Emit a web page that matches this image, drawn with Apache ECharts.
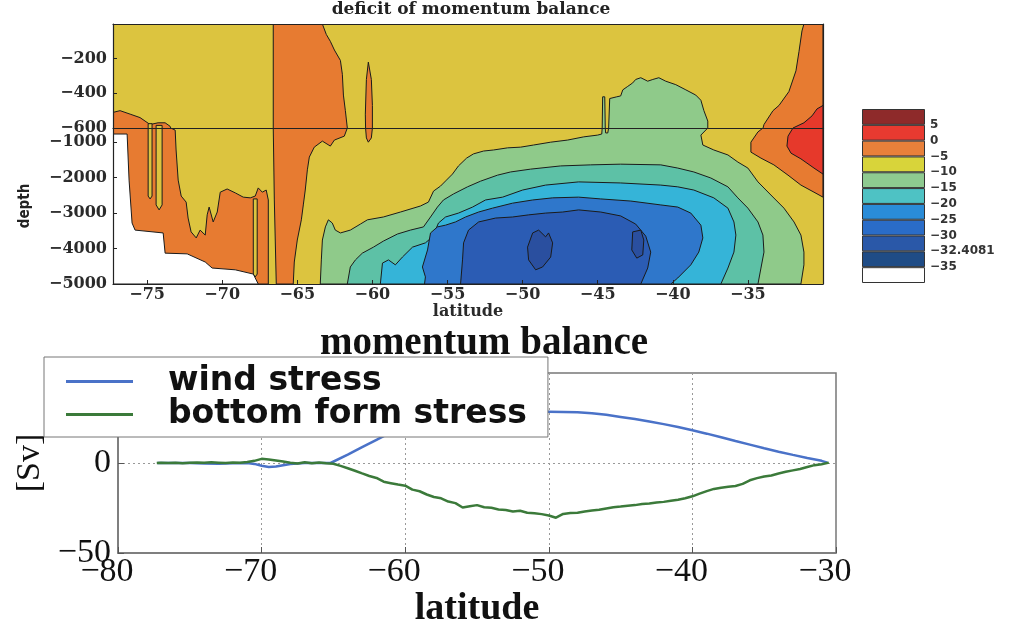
<!DOCTYPE html>
<html>
<head>
<meta charset="utf-8">
<title>momentum balance</title>
<script src="https://cdn.jsdelivr.net/npm/echarts@6/dist/echarts.min.js"></script>
<style>
html, body { margin: 0; padding: 0; background: #fff; }
#chart { width: 1018px; height: 619px; }
</style>
</head>
<body>
<div id="chart"></div>
<script>
// ---------- top panel: contour regions as [latitude, depth(m)] outlines ----------
const latMin = -77.27;
const latMax = -30;

const orangeWest = [[-77.27,-510],[-76.8,-500],[-76.13,-520],[-75.47,-540],[-74.8,-580],[-74.27,-570],[-73.8,-570],[-73.47,-590],[-73.13,-660],[-73.07,-1220],[-72.93,-2070],[-72.73,-2520],[-72.4,-2690],[-72.27,-3140],[-72.07,-3530],[-71.73,-3700],[-71.47,-3480],[-71.13,-3620],[-71.0,-3050],[-70.87,-2830],[-70.6,-3250],[-70.33,-2970],[-70.13,-2410],[-69.67,-2320],[-69.13,-2430],[-68.6,-2550],[-68.13,-2570],[-67.8,-2520],[-67.6,-2290],[-67.33,-2410],[-67.07,-2350],[-66.93,-2630],[-66.93,-5000],[-77.27,-5000]];
const stripA = [[-74.93,-575],[-74.67,-575],[-74.67,-2520],[-74.8,-2600],[-74.93,-2520]];
const stripB = [[-74.4,-585],[-74.0,-585],[-74.0,-2770],[-74.2,-2910],[-74.4,-2770]];
const stripC = [[-67.93,-2600],[-67.67,-2600],[-67.67,-4720],[-67.8,-4800],[-67.93,-4720]];
const orangeMid = [[-66.6,0],[-63.33,0],[-63.07,-60],[-62.8,-100],[-62.53,-150],[-62.13,-210],[-62.0,-290],[-61.93,-410],[-61.8,-500],[-61.67,-600],[-61.87,-830],[-62.53,-940],[-62.8,-1110],[-63.33,-970],[-63.87,-1140],[-64.2,-1420],[-64.33,-1780],[-64.47,-2350],[-64.6,-2770],[-64.73,-3190],[-65.0,-3760],[-65.2,-4380],[-65.27,-5000],[-66.4,-5000],[-66.53,-2630],[-66.6,-600]];
const orangeSpike = [[-60.27,-220],[-60.07,-320],[-60.0,-470],[-60.0,-600],[-60.07,-880],[-60.27,-1000],[-60.4,-880],[-60.47,-520],[-60.4,-320]];
const orangeEast = [[-31.27,0],[-30,0],[-30,-2550],[-30.6,-2410],[-31.47,-2210],[-32.33,-1930],[-33.27,-1640],[-34.13,-1450],[-34.8,-1280],[-34.8,-1000],[-34.33,-710],[-33.93,-580],[-33.33,-500],[-32.93,-470],[-32.27,-390],[-31.8,-270],[-31.6,-160],[-31.4,-40]];
const redEast = [[-30,-470],[-30.4,-490],[-30.73,-530],[-31.27,-570],[-32.0,-600],[-32.33,-830],[-32.4,-1110],[-32.13,-1310],[-31.47,-1470],[-30.6,-1730],[-30,-1900]];
const whiteSW = [[-77.27,-770],[-76.33,-770],[-76.2,-2070],[-76.0,-3280],[-75.8,-3480],[-73.93,-3560],[-73.8,-4130],[-72.33,-4150],[-71.13,-4380],[-70.67,-4550],[-69.13,-4600],[-67.93,-4720],[-67.6,-5000],[-77.27,-5000]];
const levelM10 = [[-63.47,-5000],[-63.4,-4320],[-63.33,-3760],[-63.13,-3390],[-62.93,-3190],[-62.67,-3280],[-62.47,-3480],[-62.13,-3560],[-61.47,-3480],[-60.8,-3310],[-60.33,-3190],[-59.27,-3110],[-58.13,-2970],[-56.8,-2800],[-56.27,-2690],[-55.93,-2380],[-55.47,-2240],[-55.07,-2070],[-54.67,-1900],[-54.27,-1670],[-53.73,-1450],[-53.27,-1330],[-52.6,-1250],[-51.93,-1220],[-51.0,-1160],[-50.13,-1140],[-49.27,-1080],[-48.13,-1000],[-47.0,-940],[-45.93,-850],[-45.0,-800],[-44.73,-770],[-44.67,-420],[-44.53,-420],[-44.47,-740],[-44.33,-740],[-44.2,-430],[-43.73,-420],[-43.47,-415],[-43.33,-380],[-43.0,-360],[-42.67,-340],[-42.47,-320],[-42.13,-310],[-41.67,-330],[-41.33,-320],[-40.93,-310],[-40.47,-330],[-39.8,-350],[-39.13,-380],[-38.47,-410],[-38.13,-440],[-37.93,-500],[-37.67,-560],[-37.67,-600],[-38.13,-800],[-38.0,-1080],[-37.27,-1220],[-36.33,-1360],[-35.67,-1560],[-35.0,-1730],[-34.33,-2120],[-33.47,-2490],[-32.6,-2860],[-31.93,-3250],[-31.47,-3620],[-31.27,-4100],[-31.27,-4460],[-31.47,-5000]];
const levelM15 = [[-61.67,-5000],[-61.47,-4520],[-61.13,-4320],[-60.67,-4130],[-59.93,-3960],[-59.27,-3790],[-58.33,-3590],[-57.47,-3480],[-56.6,-3390],[-56.13,-3110],[-55.67,-2830],[-55.27,-2630],[-54.6,-2460],[-53.67,-2260],[-52.8,-2100],[-51.67,-1930],[-50.8,-1840],[-49.47,-1760],[-47.47,-1670],[-45.47,-1640],[-43.47,-1620],[-40.8,-1640],[-39.67,-1730],[-38.6,-1840],[-37.47,-2010],[-36.33,-2260],[-35.67,-2570],[-35.0,-2860],[-34.33,-3250],[-34.0,-3620],[-33.93,-4100],[-34.13,-4550],[-34.33,-5000]];
const levelM20 = [[-59.47,-5000],[-59.33,-4410],[-58.93,-4320],[-58.47,-4460],[-58.0,-4240],[-57.33,-3960],[-56.47,-3840],[-56.0,-3670],[-55.6,-3280],[-55.13,-3110],[-54.27,-3000],[-53.33,-2830],[-52.47,-2630],[-51.33,-2550],[-50.0,-2350],[-48.47,-2210],[-46.27,-2120],[-43.47,-2150],[-40.8,-2210],[-39.67,-2260],[-38.6,-2350],[-37.27,-2570],[-36.33,-2860],[-35.93,-3250],[-35.8,-3620],[-35.93,-4100],[-36.33,-4550],[-36.8,-5000]];
const levelM25 = [[-56.53,-5000],[-56.47,-4800],[-56.67,-4520],[-56.33,-4040],[-56.13,-3560],[-55.67,-3390],[-55.13,-3340],[-54.47,-3250],[-53.8,-3110],[-52.93,-2970],[-52.0,-2860],[-50.67,-2720],[-49.33,-2630],[-48.0,-2570],[-46.27,-2550],[-44.8,-2600],[-42.8,-2660],[-40.8,-2770],[-39.67,-2830],[-38.8,-3000],[-38.13,-3340],[-38.0,-3700],[-38.27,-4100],[-38.8,-4460],[-39.67,-4830],[-40.13,-5000]];
const levelM30 = [[-54.13,-5000],[-54.0,-4320],[-53.93,-3840],[-53.6,-3480],[-52.93,-3250],[-51.8,-3140],[-50.67,-3110],[-49.6,-3050],[-48.47,-3000],[-47.33,-2970],[-46.27,-2910],[-44.8,-2970],[-43.47,-3080],[-42.47,-3310],[-41.8,-3650],[-41.47,-4100],[-41.67,-4550],[-42.13,-5000]];
const blobWest = [[-49.33,-3560],[-48.93,-3480],[-48.47,-3670],[-48.27,-3560],[-48.0,-3840],[-48.13,-4240],[-48.67,-4520],[-49.13,-4600],[-49.6,-4320],[-49.67,-3960]];
const blobEast = [[-42.67,-3530],[-42.13,-3480],[-41.93,-3760],[-42.0,-4180],[-42.4,-4270],[-42.73,-4040]];

// colour bar: boxes bottom -> top, and the labels at the box boundaries
const cbColors = ['#ffffff','#1f4c86','#2a58a8','#2a6cc8','#2a8cd8','#4ec2c4','#8eca90','#d8d43a','#e8803a','#e83a30','#8e2a2a'];
const cbTicks = ['', '-35', '-32.4081', '-30', '-25', '-20', '-15', '-10', '-5', '0', '5', ''];

// ---------- bottom panel: momentum balance [Sv] ----------
const windLat = [-77.25,-76,-75,-74,-73,-72,-71,-70.5,-70,-69.5,-69,-68.5,-68,-67,-66,-65.2,-64,-63,-62,-61,-60,-59,-58,-57,-56,-55,-54,-53,-52,-51,-50,-49,-48,-47,-46,-45,-44,-43,-42,-41,-40,-39,-38,-37,-36,-35,-34,-33,-32,-31,-30.6];
const windVal = [0,0,0,-0.3,-0.4,-0.2,0,-0.5,-1.5,-2.2,-2.0,-1.2,-0.5,0,0,0,4.6,8.8,12.9,17.0,21.0,23.5,25.5,26.8,27.5,28.0,28.3,28.5,28.6,28.6,28.5,28.4,28.2,27.7,26.8,25.6,24.4,23.1,21.6,20.0,18.2,16.3,14.3,12.2,10.2,8.2,6.3,4.5,2.8,1.2,0.2];

const formLat = [-77.3,-77,-76.5,-76,-75.5,-75,-74.5,-74,-73.5,-73,
  -72.5,-72,-71.5,-71,-70.5,-70,-69.5,-69,-68.5,-68,
  -67.5,-67,-66.5,-66,-65.5,-65,-64.5,-64,-63.5,-63,
  -62.5,-62,-61.5,-61,-60.5,-60,-59.5,-59,-58.5,-58,
  -57.5,-57,-56.5,-56,-55.5,-55,-54.5,-54,-53.5,-53,
  -52.5,-52,-51.5,-51,-50.5,-50,-49.5,-49,-48.5,-48,
  -47.5,-47,-46.5,-46,-45.5,-45,-44.5,-44,-43.5,-43,
  -42.5,-42,-41.5,-41,-40.5,-40,-39.5,-39,-38.5,-38,
  -37.5,-37,-36.5,-36,-35.5,-35,-34.5,-34,-33.5,-33,
  -32.5,-32,-31.5,-31,-30.5];
const formVal = [0,0.2,0,0.1,-0.1,0.2,0.3,0.1,0.4,0.2,
  0,0.3,0.1,0.6,1.2,2.3,2.0,1.4,0.8,0.2,
  -0.3,0.4,-0.2,0.3,-0.1,-0.4,-1.6,-2.9,-4.3,-5.8,
  -7.2,-8.3,-10.4,-11.2,-12.0,-12.6,-14.8,-15.7,-17.5,-18.9,
  -19.6,-21.4,-22.3,-24.7,-24.0,-23.4,-24.6,-24.9,-25.8,-26.1,
  -26.9,-26.5,-27.6,-27.9,-28.4,-29.2,-30.4,-28.3,-27.8,-27.6,
  -26.9,-26.4,-26.0,-25.3,-24.6,-24.2,-23.7,-23.4,-22.8,-22.5,
  -22.0,-21.6,-21.0,-20.4,-19.6,-18.5,-17.0,-15.6,-14.4,-13.7,
  -13.2,-12.8,-11.6,-9.6,-8.4,-7.5,-6.9,-5.8,-4.9,-4.1,
  -3.3,-2.2,-1.2,-0.7,0.2];

const C = {
  yellow: '#dcc43f', orange: '#e77b31', red: '#e6392b', green: '#8fca8a',
  teal: '#5dc1a6', cyan: '#35b4d8', blue: '#2f77cb', dark: '#2b5cb4', darkest: '#2a4f9f'
};

const minus = (v) => String(v).replace('-', '\u2212');
const smallSerif = { fontFamily: 'DejaVu Serif', fontWeight: 'bold', fontSize: 16, color: '#2a2a2a' };
const bigSerif = { fontFamily: 'Liberation Serif', fontSize: 34, color: '#111' };

// one filled contour region, drawn in either the upper (0..-600 m) or lower (-600..-5000 m) box
function region(points, fill, part) {
  return {
    type: 'custom',
    xAxisIndex: part === 0 ? 0 : 1,
    yAxisIndex: part === 0 ? 0 : 2,
    clip: true,
    silent: true,
    data: points,
    renderItem(params, api) {
      if (params.dataIndex !== 0) return null;
      return {
        type: 'polygon',
        shape: { points: points.map(p => api.coord(p)) },
        style: { fill: fill, stroke: '#1b1b1b', lineWidth: 1 }
      };
    }
  };
}

const layers = [
  [orangeWest, C.orange], [stripA, C.yellow], [stripB, C.yellow], [stripC, C.yellow],
  [orangeMid, C.orange], [orangeSpike, C.orange], [orangeEast, C.orange], [redEast, C.red],
  [whiteSW, '#ffffff'], [levelM10, C.green], [levelM15, C.teal], [levelM20, C.cyan],
  [levelM25, C.blue], [levelM30, C.dark], [blobWest, C.darkest], [blobEast, C.darkest]
];
const contourSeries = [];
layers.forEach(([pts, col]) => {
  contourSeries.push(region(pts, col, 0));
  contourSeries.push(region(pts, col, 1));
});

const frameLine = { show: true, onZero: false, lineStyle: { color: '#222', width: 1.2 } };
const hidden = { axisTick: { show: false }, axisLabel: { show: false }, splitLine: { show: false } };

const chart = echarts.init(document.getElementById('chart'));
chart.setOption({
  animation: false,
  backgroundColor: '#fff',
  title: [
    { text: 'deficit of momentum balance', left: 471, top: 1, textAlign: 'center', padding: 0,
      textStyle: { fontFamily: 'DejaVu Serif', fontWeight: 'bold', fontSize: 17, color: '#222' } },
    { text: 'momentum balance', left: 484, top: 324, textAlign: 'center', padding: 0,
      textStyle: { fontFamily: 'Liberation Serif', fontWeight: 'bold', fontSize: 39, color: '#111' } }
  ],
  grid: [
    { left: 113, right: 195, top: 24, height: 104, outerBoundsMode: 'none', containLabel: false,
      show: true, backgroundColor: C.yellow, borderWidth: 0 },
    { left: 113, right: 195, top: 128, height: 156, outerBoundsMode: 'none', containLabel: false,
      show: true, backgroundColor: C.yellow, borderWidth: 0 },
    { left: 862, width: 63, top: 109, height: 174, outerBoundsMode: 'none', containLabel: false },
    { left: 118, right: 182, top: 373, bottom: 66, outerBoundsMode: 'none', containLabel: false,
      show: true, borderColor: '#777', borderWidth: 1.5 }
  ],
  legend: {
    data: ['wind stress', 'bottom form stress'],
    left: 44, top: 357, orient: 'vertical',
    icon: 'rect', itemWidth: 67, itemHeight: 3, itemGap: 0,
    padding: [8, 21, 6, 22],
    backgroundColor: '#fff', borderColor: '#777', borderWidth: 1,
    selectedMode: false,
    textStyle: { fontFamily: 'DejaVu Sans', fontWeight: 'bold', fontSize: 33, lineHeight: 33, color: '#111', padding: [0, 0, 0, 30] }
  },
  xAxis: [
    Object.assign({ gridIndex: 0, type: 'value', position: 'top', min: latMin, max: latMax, axisLine: frameLine, z: 5 }, hidden),
    { gridIndex: 1, type: 'value', position: 'bottom', min: latMin, max: latMax,
      splitNumber: 9, minInterval: 5, maxInterval: 5,
      name: 'latitude', nameLocation: 'middle', nameGap: 15, nameTextStyle: smallSerif,
      axisLine: frameLine, axisTick: { show: true, inside: true, length: 4, lineStyle: { color: '#222' } },
      axisLabel: Object.assign({ margin: 3, showMinLabel: false, showMaxLabel: false, formatter: minus }, smallSerif),
      splitLine: { show: false }, z: 5 },
    Object.assign({ gridIndex: 1, type: 'value', position: 'top', min: latMin, max: latMax, axisLine: frameLine, z: 5 }, hidden),
    { gridIndex: 2, type: 'value', min: 0, max: 1, show: false },
    { gridIndex: 3, type: 'value', min: -80, max: -30, interval: 10,
      name: 'latitude', nameLocation: 'middle', nameGap: 30,
      nameTextStyle: { fontFamily: 'Liberation Serif', fontWeight: 'bold', fontSize: 38, color: '#111' },
      axisLine: { show: true, onZero: false, lineStyle: { color: '#777', width: 1.5 } },
      axisTick: { show: true, inside: true, length: 6, lineStyle: { color: '#555' } },
      axisLabel: Object.assign({ margin: 2, padding: [0, 22, 0, 0], formatter: minus }, bigSerif),
      splitLine: { show: true, lineStyle: { color: '#999', width: 1, type: [2, 3] } } }
  ],
  yAxis: [
    { gridIndex: 0, type: 'value', position: 'left', min: -600, max: 0, interval: 200,
      axisLine: frameLine, axisTick: { show: true, inside: true, length: 4, lineStyle: { color: '#222' } },
      axisLabel: Object.assign({ margin: 6, showMaxLabel: false, formatter: minus }, smallSerif),
      splitLine: { show: false }, z: 5 },
    Object.assign({ gridIndex: 0, type: 'value', position: 'right', min: -600, max: 0, axisLine: frameLine, z: 5 }, hidden),
    { gridIndex: 1, type: 'value', position: 'left', min: -5000, max: -600, interval: 1000,
      name: 'depth', nameLocation: 'middle', nameRotate: 90, nameGap: 80,
      nameTextStyle: { fontFamily: 'Liberation Sans Narrow, DejaVu Sans Condensed, sans-serif', fontWeight: 'bold', fontSize: 15, color: '#222' },
      axisLine: frameLine, axisTick: { show: true, inside: true, length: 4, lineStyle: { color: '#222' } },
      axisLabel: Object.assign({ margin: 6, showMaxLabel: false, formatter: minus }, smallSerif),
      splitLine: { show: false }, z: 5 },
    Object.assign({ gridIndex: 1, type: 'value', position: 'right', min: -5000, max: -600, axisLine: frameLine, z: 5 }, hidden),
    { gridIndex: 2, type: 'category', data: cbColors.map((c, i) => 'box' + i), show: false },
    { gridIndex: 2, type: 'value', position: 'right', min: 0, max: 11, interval: 1,
      axisLine: { show: false }, axisTick: { show: false }, splitLine: { show: false },
      axisLabel: { margin: 5, fontFamily: 'DejaVu Sans', fontWeight: 'bold', fontSize: 12, color: '#333',
        formatter: (v) => minus(cbTicks[Math.round(v)]) } },
    { gridIndex: 3, type: 'value', min: -50, max: 50, interval: 50,
      name: '[Sv]', nameLocation: 'middle', nameRotate: 90, nameGap: 68,
      nameTextStyle: { fontFamily: 'Liberation Serif', fontSize: 34, color: '#111' },
      axisLine: { show: true, onZero: false, lineStyle: { color: '#777', width: 1.5 } },
      axisTick: { show: true, inside: true, length: 6, lineStyle: { color: '#555' } },
      axisLabel: Object.assign({ margin: 7, formatter: minus }, bigSerif),
      splitLine: { show: true, lineStyle: { color: '#999', width: 1, type: [2, 3] } } }
  ],
  series: contourSeries.concat([
    { type: 'bar', xAxisIndex: 3, yAxisIndex: 4, silent: true, barCategoryGap: 0,
      data: cbColors.map(c => ({ value: 1, itemStyle: { color: c } })),
      itemStyle: { borderColor: '#333', borderWidth: 1 } },
    { type: 'line', name: 'wind stress', xAxisIndex: 4, yAxisIndex: 6,
      data: windLat.map((x, i) => [x, windVal[i]]),
      showSymbol: false, symbol: 'none',
      lineStyle: { color: '#4a72c8', width: 2.5 }, itemStyle: { color: '#4a72c8' } },
    { type: 'line', name: 'bottom form stress', xAxisIndex: 4, yAxisIndex: 6,
      data: formLat.map((x, i) => [x, formVal[i]]),
      showSymbol: false, symbol: 'none',
      lineStyle: { color: '#3b7a3a', width: 2.5 }, itemStyle: { color: '#3b7a3a' } }
  ])
});
</script>
</body>
</html>
